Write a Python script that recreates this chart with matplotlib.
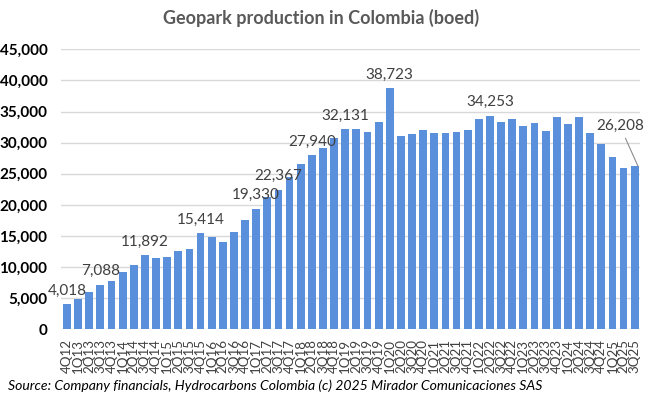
import matplotlib
matplotlib.use("Agg")
import matplotlib.pyplot as plt

quarters = ["4Q12",
            "1Q13", "2Q13", "3Q13", "4Q13",
            "1Q14", "2Q14", "3Q14", "4Q14",
            "1Q15", "2Q15", "3Q15", "4Q15",
            "1Q16", "2Q16", "3Q16", "4Q16",
            "1Q17", "2Q17", "3Q17", "4Q17",
            "1Q18", "2Q18", "3Q18", "4Q18",
            "1Q19", "2Q19", "3Q19", "4Q19",
            "1Q20", "2Q20", "3Q20", "4Q20",
            "1Q21", "2Q21", "3Q21", "4Q21",
            "1Q22", "2Q22", "3Q22", "4Q22",
            "1Q23", "2Q23", "3Q23", "4Q23",
            "1Q24", "2Q24", "3Q24", "4Q24",
            "1Q25", "2Q25", "3Q25"]

production = [4018,
              4820, 6000, 7088, 7720,
              9210, 10290, 11892, 11520,
              11580, 12540, 12960, 15414,
              14890, 14090, 15650, 17560,
              19330, 21230, 22367, 24440,
              26530, 27940, 29200, 30760,
              32131, 32200, 31680, 33380,
              38723, 31130, 31350, 32000,
              31610, 31610, 31720, 32100,
              33870, 34253, 33380, 33870,
              32690, 33220, 31890, 34200,
              32960, 34090, 31610, 29850,
              27700, 25940, 26208]

labeled_quarters = ["4Q12", "3Q13", "3Q14", "4Q15", "1Q17", "3Q17",
                    "2Q18", "1Q19", "1Q20", "2Q22"]
callout_quarter = "3Q25"

yticks = [0, 5000, 10000, 15000, 20000, 25000, 30000, 35000, 40000, 45000]

title = "Geopark production in Colombia (boed)"
source = ("Source: Company financials, Hydrocarbons Colombia (c) 2025 "
          "Mirador Comunicaciones SAS")

plt.rcParams['font.family'] = ['Lato', 'DejaVu Sans']

fig = plt.figure(figsize=(6.45, 3.98), dpi=100)
ax = fig.add_axes([0.0952, 0.1726, 0.8974, 0.7035])

x = list(range(len(quarters)))
ax.bar(x, production, width=0.7, color="#5A8FDC", zorder=3)

ax.set_xlim(-0.5, len(quarters) - 0.5)
ax.set_ylim(0, 45000)
ax.set_yticks(yticks)
ax.set_yticklabels([f"{v:,}" for v in yticks], fontsize=11,
                   fontweight="bold", color="#000000")
ax.set_xticks(x)
ax.set_xticklabels(quarters, rotation=90, fontsize=9.6, color="#404040")
ax.tick_params(axis="both", length=0)
ax.tick_params(axis="y", pad=10)
ax.tick_params(axis="x", pad=7)
ax.grid(axis="y", color="#D9D9D9", linewidth=1.0, zorder=0)
for s in ax.spines.values():
    s.set_visible(False)

for q in labeled_quarters:
    i = quarters.index(q)
    v = production[i]
    ax.annotate(f"{v:,}", xy=(i, v), xytext=(0, 10), textcoords="offset points",
                ha="center", va="center", fontsize=11, color="#404040")

i = quarters.index(callout_quarter)
v = production[i]
ax.annotate(f"{v:,}", xy=(i + 0.3, v), xytext=(-13, 29),
            textcoords="offset points", ha="center", va="center",
            fontsize=11, color="#404040",
            arrowprops=dict(arrowstyle="-", color="#8C8C8C", lw=0.8,
                            shrinkA=2, shrinkB=0))

fig.text(0.4985, 0.955, title, ha="center", va="center", fontsize=13,
         fontweight="bold", color="#595959")
fig.text(0.012, 0.032, source, ha="left", va="center", fontsize=10.1,
         style="italic", color="#000000")

fig.savefig("out.png", dpi=100)
